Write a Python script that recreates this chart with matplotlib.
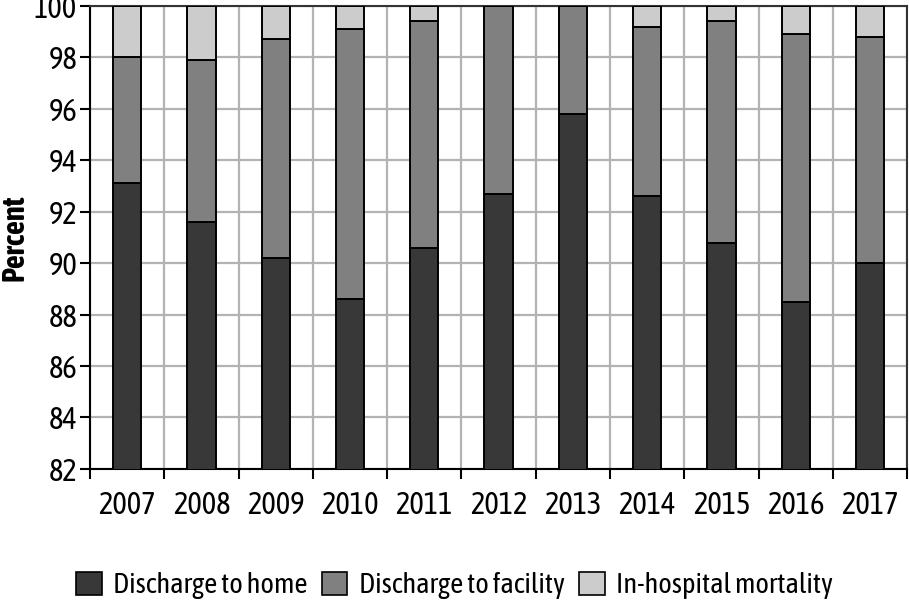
import matplotlib
matplotlib.use("Agg")
import matplotlib.pyplot as plt
import numpy as np
from matplotlib.patches import Patch

# Values (percent of discharges)
years = ["2007", "2008", "2009", "2010", "2011", "2012",
         "2013", "2014", "2015", "2016", "2017"]
home = [93.1, 91.6, 90.2, 88.6, 90.6, 92.7, 95.8, 92.6, 90.8, 88.5, 90.0]
facility = [4.9, 6.3, 8.5, 10.5, 8.8, 7.3, 4.2, 6.6, 8.6, 10.4, 8.8]
mortality = [2.0, 2.1, 1.3, 0.9, 0.6, 0.0, 0.0, 0.8, 0.6, 1.1, 1.2]
series_names = ["Discharge to home", "Discharge to facility", "In-hospital mortality"]
colors = ["#383838", "#808080", "#cccccc"]

plt.rcParams["font.family"] = ["Asap Condensed", "DejaVu Sans"]

fig = plt.figure(figsize=(9.09, 6.05), dpi=100)
ax = fig.add_axes([0.099, 0.225, 0.899, 0.765])

x = np.arange(len(years))
w = 0.38
home_a = np.array(home)
fac_a = np.array(facility)
mort_a = np.array(mortality)
ax.bar(x, home_a, w, color=colors[0], edgecolor="black", linewidth=1.4, zorder=3)
ax.bar(x, fac_a, w, bottom=home_a, color=colors[1], edgecolor="black", linewidth=1.4, zorder=3)
ax.bar(x, mort_a, w, bottom=home_a + fac_a, color=colors[2], edgecolor="black", linewidth=1.4, zorder=3)

ax.set_ylim(82, 100)
ax.set_xlim(-0.5, len(years) - 0.5)
ax.set_yticks(np.arange(82, 101, 2))
ax.set_xticks(np.arange(-0.5, len(years), 1.0))
ax.set_xticklabels([])
ax.set_xticks(x, minor=True)
ax.set_xticklabels(years, minor=True)
ax.tick_params(axis="x", which="major", length=7, width=1.5, direction="out")
ax.tick_params(axis="x", which="minor", length=0, pad=15, labelsize=22)
ax.tick_params(axis="y", length=7, width=1.5, direction="out", labelsize=22, pad=2)

ax.grid(True, which="major", color="#b3b3b3", linewidth=1.6, zorder=0)
ax.set_axisbelow(True)
for side in ["left", "bottom"]:
    ax.spines[side].set_linewidth(1.5)
    ax.spines[side].set_color("black")
for side in ["top", "right"]:
    ax.spines[side].set_linewidth(1.5)
    ax.spines[side].set_color("#333333")

ax.set_ylabel("Percent", fontsize=22, fontweight="bold", labelpad=3)

handles = [Patch(facecolor=c, edgecolor="black", linewidth=1.2) for c in colors]
fig.legend(handles, series_names, loc="center", bbox_to_anchor=(0.5, 0.032),
           ncol=3, frameon=False, fontsize=20.5, handlelength=0.9, handleheight=0.9,
           handletextpad=0.4, columnspacing=0.5)

fig.savefig("out.png", dpi=100)
